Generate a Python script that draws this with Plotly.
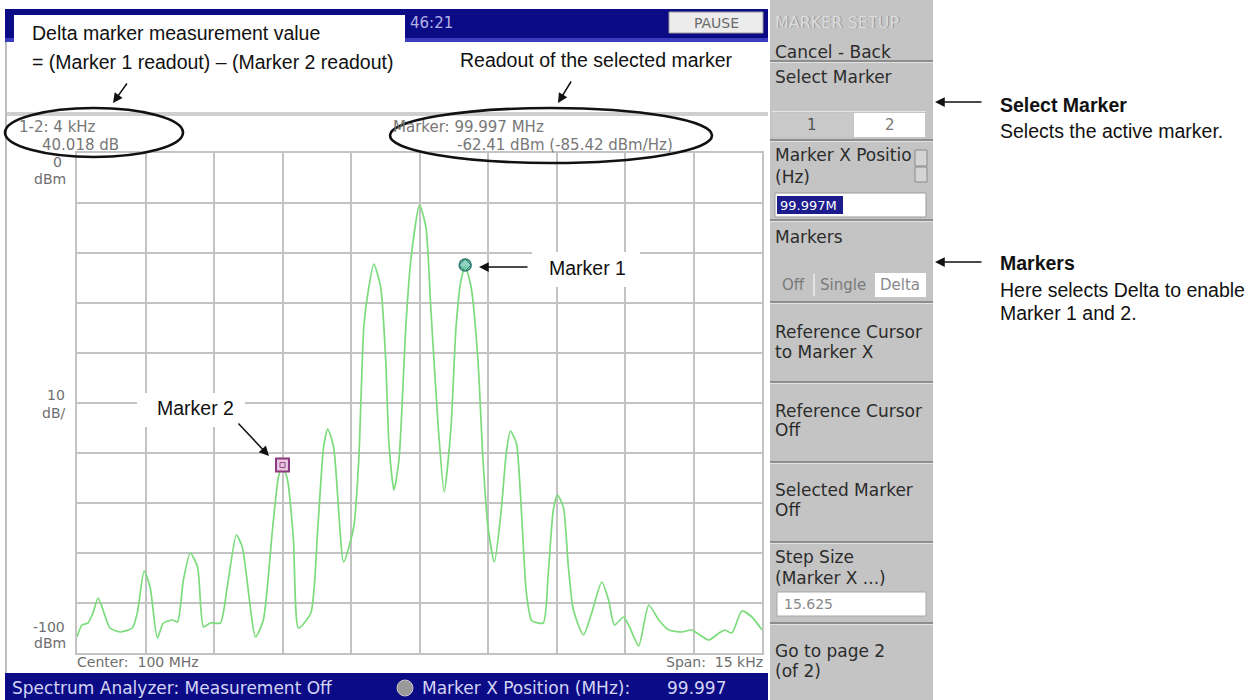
import plotly.graph_objects as go

W, H = 1251, 700

# ---------------- data (offset from 100 MHz centre in kHz, level in dBm) ----------------
freq_khz = [-7.50, -7.39, -7.26, -7.15, -7.04, -6.93, -6.78, -6.56, -6.29, -6.18, -6.03, -5.90,
            -5.74, -5.61, -5.41, -5.30, -5.17, -5.02, -4.86, -4.73, -4.58, -4.36, -4.21, -4.01,
            -3.88, -3.59, -3.42, -3.22, -3.09, -3.00, -2.89, -2.76, -2.65, -2.38, -2.23, -2.10,
            -2.01, -1.88, -1.66, -1.44, -1.33, -1.22, -1.13, -1.00, -0.85, -0.74, -0.67, -0.56,
            -0.45, -0.30, -0.19, 0.00, 0.14, 0.25, 0.41, 0.54, 0.69, 0.80, 0.91, 1.00, 1.13, 1.28,
            1.39, 1.50, 1.64, 1.79, 1.90, 1.99, 2.12, 2.23, 2.34, 2.45, 2.51, 2.71, 2.82, 2.93,
            3.02, 3.15, 3.26, 3.37, 3.59, 3.77, 3.99, 4.14, 4.27, 4.47, 4.60, 4.80, 5.02, 5.24,
            5.46, 5.74, 5.96, 6.14, 6.34, 6.56, 6.69, 6.84, 7.06, 7.28, 7.50]
level_dbm = [-96.8, -94.4, -94.0, -92.0, -89.0, -91.4, -95.0, -95.8, -95.0, -92.0, -83.6, -86.8,
             -97.0, -94.0, -93.4, -93.8, -85.4, -80.0, -82.8, -94.8, -94.0, -94.0, -86.8, -76.4,
             -78.8, -96.8, -93.4, -75.4, -64.8, -62.4, -65.4, -77.4, -95.0, -92.0, -75.4, -58.8,
             -55.2, -58.8, -81.8, -74.8, -61.4, -34.8, -28.0, -22.2, -26.8, -41.4, -58.0, -67.4,
             -61.4, -34.8, -21.4, -10.4, -14.8, -31.4, -54.8, -67.8, -54.8, -34.8, -25.4, -22.6,
             -26.8, -41.4, -61.4, -74.8, -81.8, -71.4, -60.0, -55.6, -58.0, -71.4, -88.0, -93.4,
             -93.8, -94.0, -84.0, -71.4, -68.4, -70.8, -82.8, -91.4, -96.4, -92.0, -85.8, -89.4,
             -94.4, -92.8, -94.8, -98.6, -90.4, -93.4, -95.4, -95.8, -95.4, -96.4, -97.4, -96.0,
             -95.4, -96.0, -91.6, -92.8, -95.4]

marker_names = ["Marker 1", "Marker 2"]
marker_freq_khz = [1.0, -3.0]
marker_level_dbm = [-22.39, -62.41]

span_khz = 15
ref_level_dbm = 0
db_per_div = 10
n_div = 10

y_labels = [("0", "dBm"), ("10", "dB/"), ("-100", "dBm")]
readout_delta = ["1-2: 4 kHz", "40.018 dB"]
readout_marker = ["Marker: 99.997 MHz", "-62.41 dBm (-85.42 dBm/Hz)"]
footer_left = "Center:  100 MHz"
footer_right = "Span:  15 kHz"

menu_items = [
    ("Cancel - Back", 52), ("Select Marker", 77),
    ("Marker X Positio", 155), ("(Hz)", 177), ("Markers", 237),
    ("Reference Cursor", 332), ("to Marker X", 352),
    ("Reference Cursor", 411), ("Off", 430),
    ("Selected Marker", 490), ("Off", 510),
    ("Step Size", 557), ("(Marker X ...)", 578),
    ("Go to page 2", 651), ("(of 2)", 671),
]
menu_separators = [61, 140, 220, 302, 382, 462, 542, 623]

# ---------------- helpers ----------------
def px(x):
    return x / W

def py(y):
    return 1 - y / H

SCREEN = "DejaVu Sans"
CALLOUT = "Liberation Sans"
NAVY = "#0b0b86"

shapes = []
annotations = []

def rect(x0, y0, x1, y1, fill, line=None, lw=0, layer="below"):
    shapes.append(dict(type="rect", xref="paper", yref="paper",
                       x0=px(x0), x1=px(x1), y0=py(y1), y1=py(y0),
                       fillcolor=fill, layer=layer,
                       line=dict(color=line or fill, width=lw)))

def ellipse(x0, y0, x1, y1):
    shapes.append(dict(type="circle", xref="paper", yref="paper",
                       x0=px(x0), x1=px(x1), y0=py(y1), y1=py(y0),
                       layer="above", line=dict(color="#111111", width=2.6)))

def text(x, y, s, size, color, anchor="left", family=SCREEN):
    annotations.append(dict(x=px(x), y=py(y), xref="paper", yref="paper", text=s,
                            showarrow=False, xanchor=anchor, yanchor="middle",
                            font=dict(family=family, size=size, color=color)))

def arrow(hx, hy, tx, ty):
    annotations.append(dict(x=px(hx), y=py(hy), xref="paper", yref="paper",
                            ax=tx - hx, ay=ty - hy, axref="pixel", ayref="pixel",
                            text="", showarrow=True, arrowhead=2, arrowsize=1.3,
                            arrowwidth=1.5, arrowcolor="#111111"))

# ---------------- instrument screen chrome ----------------
rect(5, 9, 768, 38, NAVY)
rect(5, 38, 768, 42, "#3c3cc0")
rect(5, 112, 768, 116, "#cfcfcf")
rect(5, 42, 7, 673, "#bdbdbd")
rect(5, 673, 768, 700, NAVY)
rect(669, 12, 763, 33, "#ececec", "#9a9a9a", 1)
text(716, 23, "PAUSE", 14, "#6a6a6a", "center")
text(408, 23, "46:21", 15, "#b4b4e6")

# bottom status bar
text(10, 688, "Spectrum Analyzer: Measurement Off", 17, "#d4d4f4")
shapes.append(dict(type="circle", xref="paper", yref="paper",
                   x0=px(397), x1=px(413), y0=py(696), y1=py(680),
                   fillcolor="#9a9a9a", line=dict(color="#c8c8c8", width=1), layer="below"))
text(420, 688, "Marker X Position (MHz):", 17, "#d4d4f4")
text(665, 688, "99.997", 17, "#d4d4f4")

# readouts and axis labels
text(17, 127, readout_delta[0], 15, "#777777")
text(40, 145, readout_delta[1], 15, "#777777")
text(391, 127, readout_marker[0], 15, "#777777")
text(455, 145, readout_marker[1], 15, "#777777")

text(57, 162, y_labels[0][0], 14, "#6e6e6e", "center")
text(68, 179, y_labels[0][1], 14, "#6e6e6e", "right")
text(67, 395, y_labels[1][0], 14, "#6e6e6e", "right")
text(67, 413, y_labels[1][1], 14, "#6e6e6e", "right")
text(67, 627, y_labels[2][0], 14, "#6e6e6e", "right")
text(68, 643, y_labels[2][1], 14, "#6e6e6e", "right")
text(75, 662, footer_left, 14, "#6e6e6e")
text(765, 662, footer_right, 14, "#6e6e6e", "right")

# ---------------- right-hand menu panel ----------------
rect(770, 0, 933, 700, "#c4c4c4")
text(774, 23, "MARKER SETUP", 16, "#939393")
text(773, 22, "MARKER SETUP", 16, "#dcdcdc")
for y in menu_separators:
    rect(770, y - 1, 933, y + 1, "#8e8e8e")
    rect(770, y + 1, 933, y + 2, "#e2e2e2")
rect(772, 111, 926, 112, "#e6e6e6")
rect(772, 113, 853, 137, "#c9c9c9")
rect(854, 113, 925, 137, "#ffffff")
text(812, 125, "1", 15, "#555555", "center")
text(890, 125, "2", 15, "#777777", "center")
rect(915, 150, 927, 166, "#d4d4d4", "#8a8a8a", 1)
rect(915, 167, 927, 182, "#d4d4d4", "#8a8a8a", 1)
rect(775, 193, 926, 217, "#ffffff", "#9a9a9a", 1)
rect(777, 196, 843, 214, "#1c1c8c")
text(778, 205, "99.997M", 13, "#ffffff")
rect(875, 273, 926, 297, "#ffffff")
rect(813, 274, 815, 296, "#e4e4e4")
text(793, 285, "Off", 15, "#7a7a7a", "center")
text(843, 285, "Single", 15, "#7a7a7a", "center")
text(900, 285, "Delta", 15, "#8a8a8a", "center")
rect(777, 592, 926, 616, "#ffffff", "#a8a8a8", 1)
text(782, 604, "15.625", 14, "#8a8a8a")
for label, y in menu_items:
    text(773, y, label, 17, "#2c2c2c")

# ---------------- callout annotations ----------------
rect(14, 15, 405, 100, "#ffffff", layer="above")
rect(443, 42, 755, 100, "#ffffff", layer="above")
rect(532, 252, 640, 287, "#ffffff", layer="above")
rect(137, 393, 245, 427, "#ffffff", layer="above")

text(30, 33, "Delta marker measurement value", 19.5, "#111111", family=CALLOUT)
text(30, 62, "= (Marker 1 readout) \u2013 (Marker 2 readout)", 19.5, "#111111", family=CALLOUT)
text(458, 60, "Readout of the selected marker", 19.5, "#111111", family=CALLOUT)
text(547, 268, marker_names[0], 19.5, "#111111", family=CALLOUT)
text(155, 408, marker_names[1], 19.5, "#111111", family=CALLOUT)
text(998, 105, "<b>Select Marker</b>", 19.5, "#111111", family=CALLOUT)
text(998, 131, "Selects the active marker.", 19.5, "#111111", family=CALLOUT)
text(998, 263, "<b>Markers</b>", 19.5, "#111111", family=CALLOUT)
text(998, 290, "Here selects Delta to enable", 19.5, "#111111", family=CALLOUT)
text(998, 313, "Marker 1 and 2.", 19.5, "#111111", family=CALLOUT)

ellipse(5, 108, 183, 157)
ellipse(390, 108, 712, 163)

arrow(113, 103, 128, 82)
arrow(558, 103, 572, 80)
arrow(479, 267, 529, 267)
arrow(269, 456, 237, 422)
arrow(935, 102, 983, 102)
arrow(935, 262, 983, 262)

# ---------------- figure ----------------
fig = go.Figure()
fig.add_trace(go.Scatter(x=freq_khz, y=level_dbm, mode="lines",
                         line=dict(color="#7bdc7b", width=1.7, shape="spline", smoothing=0.6),
                         hoverinfo="skip"))
fig.add_trace(go.Scatter(x=[marker_freq_khz[0]], y=[marker_level_dbm[0]], mode="markers",
                         marker=dict(symbol="circle", size=12, color="rgba(110,196,176,0.75)",
                                     line=dict(color="#2f7d6e", width=1.5))))
fig.add_trace(go.Scatter(x=[marker_freq_khz[0]], y=[marker_level_dbm[0]], mode="markers",
                         marker=dict(symbol="diamond-open", size=9, color="#2f7d6e",
                                     line=dict(width=1))))
fig.add_trace(go.Scatter(x=[marker_freq_khz[1]], y=[marker_level_dbm[1]], mode="markers",
                         marker=dict(symbol="square", size=13, color="#e8c6df",
                                     line=dict(color="#8a3a7e", width=2))))
fig.add_trace(go.Scatter(x=[marker_freq_khz[1]], y=[marker_level_dbm[1]], mode="markers",
                         marker=dict(symbol="square-open", size=5, color="#9a4c8e",
                                     line=dict(width=1))))

half = span_khz / 2
axis_common = dict(showticklabels=False, ticks="", showgrid=True, gridcolor="#c3c3c3",
                   gridwidth=1.5, zeroline=False, showline=True, mirror=True,
                   linecolor="#c3c3c3", linewidth=1.5, fixedrange=True)
fig.update_layout(
    width=W, height=H, autosize=False,
    margin=dict(l=0, r=0, t=0, b=0),
    paper_bgcolor="#ffffff", plot_bgcolor="#ffffff",
    showlegend=False,
    xaxis=dict(domain=[px(77), px(762)], range=[-half, half],
               tick0=-half, dtick=span_khz / n_div, **axis_common),
    yaxis=dict(domain=[py(653), py(153)],
               range=[ref_level_dbm - db_per_div * n_div, ref_level_dbm],
               tick0=ref_level_dbm, dtick=db_per_div, **axis_common),
    shapes=shapes,
    annotations=annotations,
)

fig.write_html("out.html", config={"displayModeBar": False},
               post_script="document.body.style.margin='0';document.body.style.overflow='hidden';")
